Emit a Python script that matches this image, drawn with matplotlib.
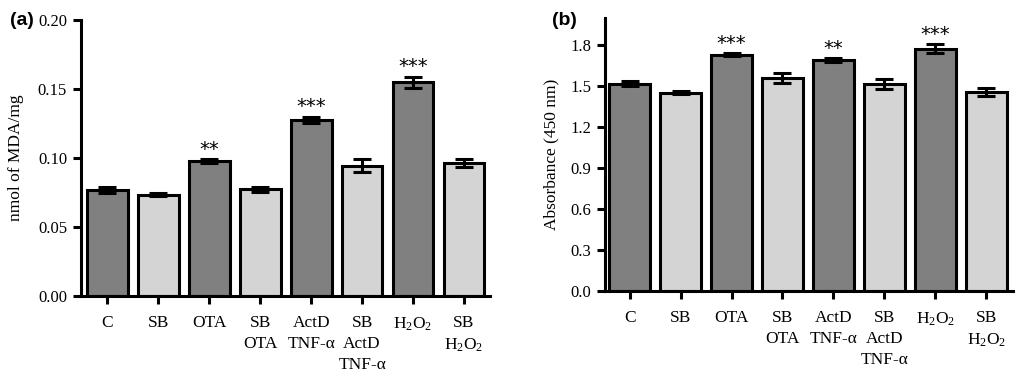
import matplotlib
matplotlib.use("Agg")
import matplotlib.pyplot as plt
import numpy as np

## ---- data ----
groups = ["C", "SB", "OTA", "SB\nOTA", "ActD\nTNF-α", "SB\nActD\nTNF-α",
          "H$_2$O$_2$", "SB\nH$_2$O$_2$"]
mda_mean = [0.0768, 0.0734, 0.0975, 0.0772, 0.1275, 0.0945, 0.1550, 0.0965]
mda_err  = [0.0020, 0.0010, 0.0015, 0.0020, 0.0025, 0.0050, 0.0040, 0.0030]
mda_sig  = ["", "", "**", "", "***", "", "***", ""]
abs_mean = [1.520, 1.453, 1.733, 1.562, 1.690, 1.518, 1.777, 1.461]
abs_err  = [0.020, 0.012, 0.008, 0.035, 0.015, 0.035, 0.030, 0.030]
abs_sig  = ["", "", "***", "", "**", "", "***", ""]

bar_colors = ["#808080", "#d4d4d4"] * 4

plt.rcParams["font.family"] = ["Liberation Serif", "DejaVu Serif"]
plt.rcParams["mathtext.fontset"] = "custom"
plt.rcParams["mathtext.rm"] = "Liberation Serif"
plt.rcParams["mathtext.it"] = "Liberation Serif:italic"

fig = plt.figure(figsize=(10.24, 3.77), dpi=100)


def draw_panel(ax, mean, err, sig, ylim, yticks, yfmt, ylabel, xlim):
    x = np.arange(len(mean))
    ax.bar(x, mean, width=0.8, color=bar_colors, edgecolor="black",
           linewidth=2.2, zorder=2)
    ax.errorbar(x, mean, yerr=err, fmt="none", ecolor="black",
                elinewidth=2.2, capsize=6.5, capthick=2.2, zorder=3)
    span = ylim[1] - ylim[0]
    for xi, m, e, s in zip(x, mean, err, sig):
        if s:
            ax.text(xi, m + e + span * 0.003, s, ha="center", va="bottom",
                    fontsize=14, family="DejaVu Sans")
    ax.set_xlim(*xlim)
    ax.set_ylim(*ylim)
    ax.set_yticks(yticks)
    ax.set_yticklabels([yfmt.format(t) for t in yticks], fontsize=12)
    ax.set_xticks(x)
    ax.set_xticklabels(groups, fontsize=12.5, linespacing=1.38)
    ax.set_ylabel(ylabel, fontsize=12.5)
    for side in ["top", "right"]:
        ax.spines[side].set_visible(False)
    for side in ["left", "bottom"]:
        ax.spines[side].set_linewidth(2.2)
    ax.tick_params(axis="both", direction="out", length=6, width=2.2, pad=4)
    ax.tick_params(axis="x", pad=8)


## ---- panel (a) ----
ax1 = fig.add_axes([0.079, 0.215, 0.400, 0.732])
draw_panel(ax1, mda_mean, mda_err, mda_sig, (0, 0.20),
           [0.0, 0.05, 0.10, 0.15, 0.20], "{:.2f}", "nmol of MDA/mg",
           (-0.52, 7.52))
ax1.yaxis.labelpad = 10
fig.text(0.010, 0.945, "(a)", fontsize=14, fontweight="bold",
         family="Liberation Sans", va="center")

## ---- panel (b) ----
ax2 = fig.add_axes([0.591, 0.228, 0.398, 0.724])
draw_panel(ax2, abs_mean, abs_err, abs_sig, (0, 2.0),
           [0.0, 0.3, 0.6, 0.9, 1.2, 1.5, 1.8], "{:.1f}",
           "Absorbance (450 nm)", (-0.48, 7.52))
ax2.yaxis.labelpad = 8
fig.text(0.539, 0.945, "(b)", fontsize=14, fontweight="bold",
         family="Liberation Sans", va="center")

plt.savefig("out.png", dpi=100)
